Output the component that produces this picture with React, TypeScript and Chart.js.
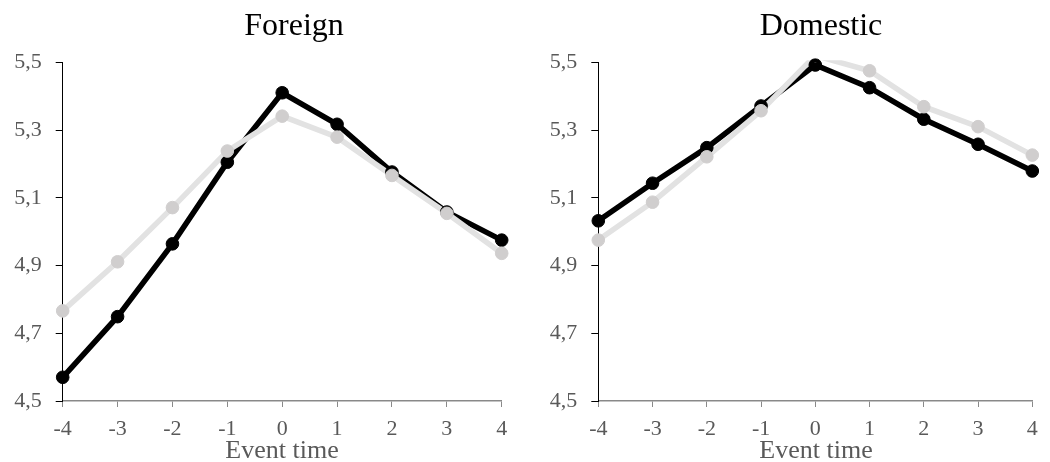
import React, { useEffect, useRef } from "react";
import { Chart, registerables } from "chart.js";

Chart.register(...registerables);

const categories = ["-4", "-3", "-2", "-1", "0", "1", "2", "3", "4"];
const yTickValues = [4.5, 4.7, 4.9, 5.1, 5.3, 5.5];

const foreignBlack = [4.57, 4.749, 4.964, 5.205, 5.41, 5.317, 5.176, 5.058, 4.975];
const foreignGray = [4.766, 4.911, 5.071, 5.238, 5.341, 5.279, 5.166, 5.054, 4.936];
const domesticBlack = [5.032, 5.143, 5.248, 5.371, 5.492, 5.425, 5.332, 5.258, 5.179];
const domesticGray = [4.975, 5.087, 5.221, 5.357, 5.52, 5.475, 5.369, 5.31, 5.226];

const FONT = "'Liberation Serif', 'Times New Roman', serif";
const CANVAS_W = 525;
const CANVAS_H = 462;

const BLACK = "#000000";
const GRAY_LINE = "#e2e2e2";
const GRAY_MARK = "#d0cece";

type PanelProps = {
  left: number;
  axisWidth: number;
  padRight: number;
  black: number[];
  gray: number[];
};

function lineSet(label: string, data: number[], color: string, order: number) {
  return {
    label,
    data,
    borderColor: color,
    backgroundColor: color,
    borderWidth: 5.5,
    pointRadius: 0,
    pointHoverRadius: 0,
    tension: 0,
    order,
    clip: { left: false, right: false, top: 2, bottom: false } as any,
  };
}

function markSet(label: string, data: number[], color: string, order: number, clipTop: number) {
  return {
    label,
    data,
    showLine: false,
    borderColor: color,
    backgroundColor: color,
    pointBackgroundColor: color,
    pointBorderColor: color,
    pointRadius: 6.3,
    pointBorderWidth: 1,
    order,
    clip: { left: false, right: false, top: clipTop, bottom: false } as any,
  };
}

function Panel({ left, axisWidth, padRight, black, gray }: PanelProps) {
  const ref = useRef<HTMLCanvasElement | null>(null);
  useEffect(() => {
    if (!ref.current) return;
    const chart = new Chart(ref.current, {
      type: "line",
      data: {
        labels: categories,
        datasets: [
          lineSet("Series 1", black, BLACK, 4),
          lineSet("Series 2", gray, GRAY_LINE, 3),
          markSet("Series 1 markers", black, BLACK, 2, 4),
          markSet("Series 2 markers", gray, GRAY_MARK, 1, 0),
        ] as any,
      },
      options: {
        animation: false,
        responsive: false,
        devicePixelRatio: 1,
        layout: { padding: { left: 0, top: 62.3, right: padRight, bottom: 0 } },
        plugins: {
          legend: { display: false },
          title: { display: false },
          tooltip: { enabled: false },
        },
        scales: {
          x: {
            type: "category",
            offset: false,
            grid: {
              drawOnChartArea: false,
              drawTicks: true,
              tickLength: 6,
              color: "#898989",
            },
            border: { display: true, color: "#898989", width: 1.5 },
            ticks: {
              color: "#595959",
              font: { family: FONT, size: 22 },
              padding: 9.5,
              maxRotation: 0,
              autoSkip: false,
            },
            afterFit: (scale: any) => {
              scale.height = 61;
            },
          },
          y: {
            min: 4.5,
            max: 5.5,
            afterBuildTicks: (scale: any) => {
              scale.ticks = yTickValues.map((v) => ({ value: v }));
            },
            grid: {
              drawOnChartArea: false,
              drawTicks: true,
              tickLength: 7,
              color: "#000000",
            },
            border: { display: true, color: "#000000", width: 1 },
            ticks: {
              color: "#595959",
              font: { family: FONT, size: 22 },
              padding: 14,
              callback: (v: any) => Number(v).toFixed(1).replace(".", ","),
            },
            afterFit: (scale: any) => {
              scale.width = axisWidth;
            },
          },
        },
      },
    });
    return () => chart.destroy();
  }, []);
  return (
    <canvas
      ref={ref}
      width={CANVAS_W}
      height={CANVAS_H}
      style={{ position: "absolute", left, top: 0, width: CANVAS_W, height: CANVAS_H }}
    />
  );
}

const textStyle: React.CSSProperties = {
  position: "absolute",
  fontFamily: FONT,
  whiteSpace: "nowrap",
  transform: "translateX(-50%)",
};

export default function App() {
  return (
    <div
      style={{
        position: "fixed",
        left: 0,
        top: 0,
        width: 1050,
        height: 462,
        overflow: "hidden",
        background: "#ffffff",
      }}
    >
      <Panel left={0} axisWidth={62.7} padRight={23.3} black={foreignBlack} gray={foreignGray} />
      <Panel left={525} axisWidth={73.3} padRight={17.7} black={domesticBlack} gray={domesticGray} />
      <div style={{ ...textStyle, left: 294, top: 8, fontSize: 32, lineHeight: "32px", color: "#000" }}>
        Foreign
      </div>
      <div style={{ ...textStyle, left: 821, top: 8, fontSize: 32, lineHeight: "32px", color: "#000" }}>
        Domestic
      </div>
      <div style={{ ...textStyle, left: 282, top: 437, fontSize: 26, lineHeight: "26px", color: "#595959" }}>
        Event time
      </div>
      <div style={{ ...textStyle, left: 816, top: 437, fontSize: 26, lineHeight: "26px", color: "#595959" }}>
        Event time
      </div>
    </div>
  );
}
